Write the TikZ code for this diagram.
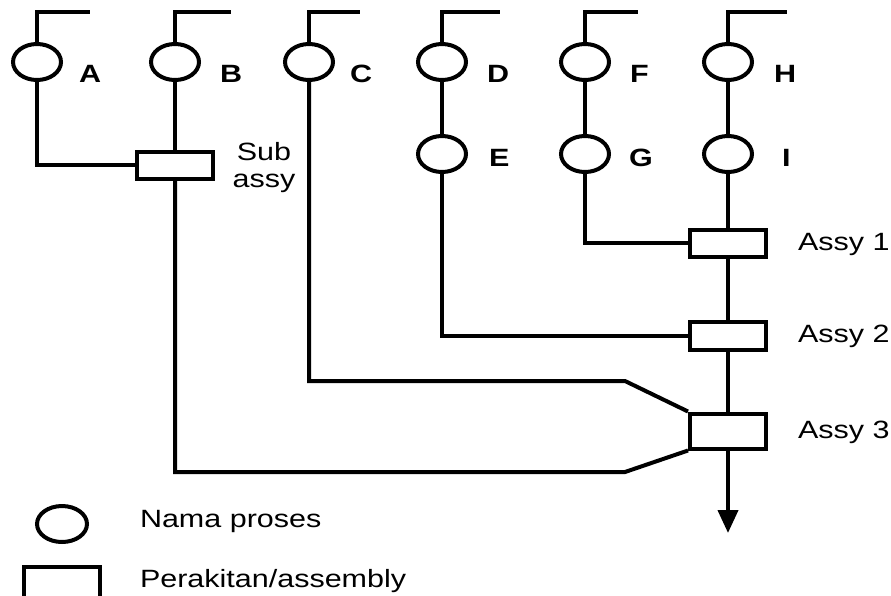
\documentclass[tikz,border=0pt]{standalone}
\usepackage{fontspec}
\setmainfont{Liberation Sans}[FakeStretch=1.22]
\usetikzlibrary{arrows.meta,shapes.geometric}
\begin{document}
\begin{tikzpicture}[x=1pt,y=-1pt,
  line width=4pt,
  proc/.style={draw,ellipse,minimum width=48pt,minimum height=36pt,inner sep=0pt},
  asm/.style={draw,rectangle,minimum width=76pt,minimum height=27pt,inner sep=0pt},
  lbl/.style={anchor=base west,inner sep=0pt,font=\fontsize{25}{30}\selectfont\bfseries},
  txt/.style={inner sep=0pt,font=\fontsize{25}{30}\selectfont},
  every path/.style={line join=miter}]
\useasboundingbox (0,0) rectangle (891,595);
% process circles
\node[proc] (A) at (37,62) {};
\node[proc] (B) at (175,62) {};
\node[proc] (C) at (309,62) {};
\node[proc] (D) at (442,62) {};
\node[proc] (F) at (585,62) {};
\node[proc] (H) at (728,62) {};
\node[proc] (E) at (442,154) {};
\node[proc] (G) at (585,154) {};
\node[proc] (I) at (728,154) {};
% top inputs
\coordinate (tA) at (90,12);
\coordinate (tB) at (231,12);
\coordinate (tC) at (360,12);
\coordinate (tD) at (500,12);
\coordinate (tF) at (638,12);
\coordinate (tH) at (787,12);
\foreach \n in {A,B,C,D,F,H} { \draw (\n.north) |- (t\n); }
% letters
\node[lbl] (lA) at (77,82) {A};
\node[lbl] (lB) at (218,82) {B};
\node[lbl] (lC) at (348,82) {C};
\node[lbl] (lD) at (485,82) {D};
\node[lbl] (lF) at (628,82) {F};
\node[lbl] (lH) at (772,82) {H};
\node[lbl] (lE) at (487,166) {E};
\node[lbl] (lG) at (627,166) {G};
\node[lbl] (lI) at (780,166) {I};
% assembly boxes
\node[asm] (sub) at (175,165) {};
\node[asm] (a1) at (728,243) {};
\node[asm,minimum height=28pt] (a2) at (728,335.5) {};
\node[asm,minimum height=35pt] (a3) at (728,431) {};
\node[txt,anchor=base] (ls1) at (264,160) {Sub};
\node[txt,anchor=base] (ls2) at (264,187) {assy};
\node[txt,anchor=base west] (l1) at (796,250) {Assy 1};
\node[txt,anchor=base west] (l2) at (796,342) {Assy 2};
\node[txt,anchor=base west] (l3) at (796,438) {Assy 3};
% connectors
\draw (A.south) |- (sub.west);
\draw (B.south) -- (sub.north);
\draw (D.south) -- (E.north);
\draw (F.south) -- (G.north);
\draw (H.south) -- (I.north);
\draw (I.south) -- (a1.north);
\draw (a1.south) -- (a2.north);
\draw (a2.south) -- (a3.north);
\draw (G.south) |- (a1.west);
\draw (E.south) |- (a2.west);
\coordinate (c1) at (625,381);
\coordinate (b1) at (625,472);
\draw (C.south) |- (c1) -- (a3.north west);
\draw (sub.south) |- (b1) -- (a3.south west);
\coordinate (out) at (728,533);
\draw[-{Triangle[width=20pt,length=23pt]}] (a3.south) -- (out);
% legend
\node[proc,minimum width=50pt] (lg1) at (62,524) {};
\node[asm,minimum height=35pt] (lg2) at (62,584) {};
\node[txt,anchor=base west] (lt1) at (138,527) {Nama proses};
\node[txt,anchor=base west] (lt2) at (138,587) {Perakitan/assembly};
\end{tikzpicture}
\end{document}
